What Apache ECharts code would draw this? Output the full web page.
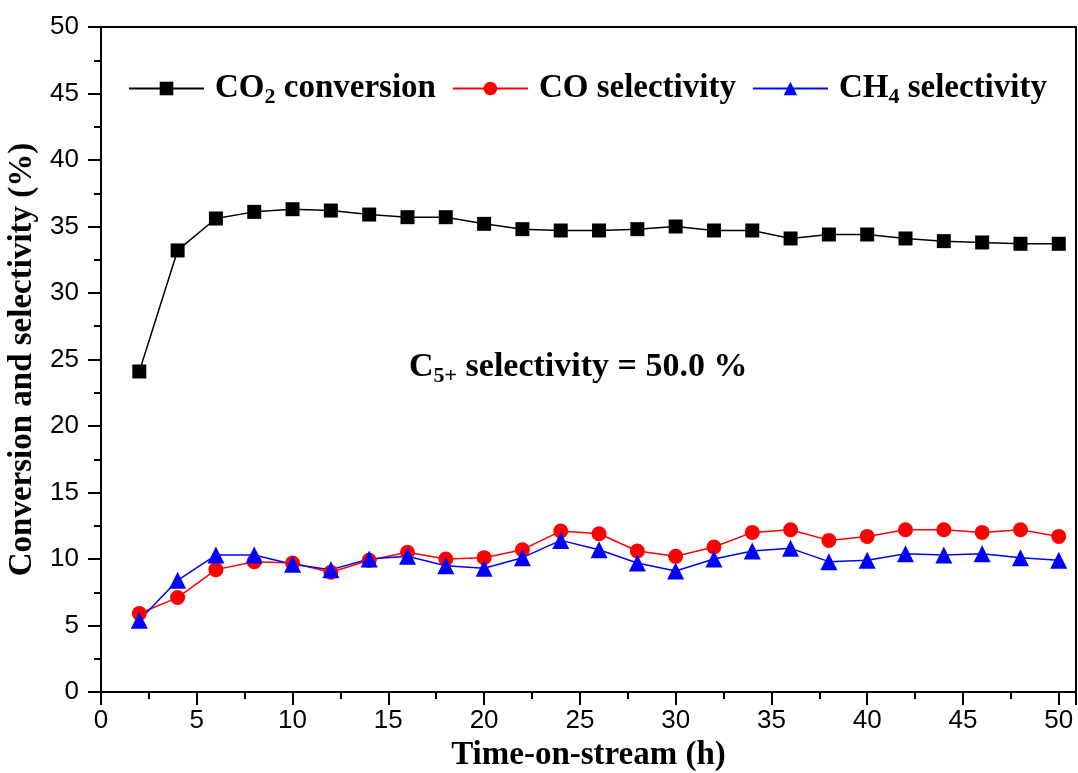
<!DOCTYPE html>
<html><head><meta charset="utf-8">
<script src="https://cdn.jsdelivr.net/npm/echarts@6/dist/echarts.min.js"></script>
<style>html,body{margin:0;padding:0;background:#fff}#c{width:1078px;height:773px}</style>
</head><body><div id="c"></div>
<script>
const hours = [2,4,6,8,10,12,14,16,18,20,22,24,26,28,30,32,34,36,38,40,42,44,46,48,50];
const co2Conversion = [24.1,33.2,35.6,36.1,36.3,36.2,35.9,35.7,35.7,35.2,34.8,34.7,34.7,34.8,35.0,34.7,34.7,34.1,34.4,34.4,34.1,33.9,33.8,33.7,33.7];
const coSelectivity = [5.9,7.1,9.2,9.8,9.7,9.0,9.9,10.5,10.0,10.1,10.7,12.1,11.9,10.6,10.2,10.9,12.0,12.2,11.4,11.7,12.2,12.2,12.0,12.2,11.7];
const ch4Selectivity = [5.4,8.4,10.3,10.3,9.6,9.2,10.0,10.2,9.5,9.3,10.1,11.4,10.7,9.7,9.1,10.0,10.6,10.8,9.8,9.9,10.4,10.3,10.4,10.1,9.9];
const seriesNames = ['CO2 conversion','CO selectivity','CH4 selectivity'];
const legendRich = {
  'CO2 conversion': '{a|CO}{s|2}{a| conversion}',
  'CO selectivity': '{a|CO selectivity}',
  'CH4 selectivity': '{a|CH}{s|4}{a| selectivity}'
};
const annotation = '{a|C}{s|5+}{a| selectivity = 50.0 %}';

const serif = '"Liberation Serif","Times New Roman",serif';
const sans = '"Liberation Sans",Arial,sans-serif';
const legendStyles = {
  a: {fontFamily: serif, fontWeight: 'bold', fontSize: 33, color: '#000'},
  s: {fontFamily: serif, fontWeight: 'bold', fontSize: 22, color: '#000', padding: [18,0,0,0]}
};
const annoStyles = {
  a: {fontFamily: serif, fontWeight: 'bold', fontSize: 34, color: '#000'},
  s: {fontFamily: serif, fontWeight: 'bold', fontSize: 22, color: '#000', padding: [18,0,0,0]}
};
const pairs = arr => hours.map((h,i)=>[h,arr[i]]);

const chart = echarts.init(document.getElementById('c'), null, {renderer:'canvas'});
chart.setOption({
  animation: false,
  backgroundColor: '#fff',
  grid: {left: 101, top: 27, right: 2, bottom: 81, show: true, borderColor: '#000', borderWidth: 2,
         containLabel: false, outerBoundsMode: 'none'},
  title: {
    text: annotation, left: 404, top: 342,
    textStyle: {rich: annoStyles}
  },
  legend: {
    left: 123, top: 67, itemWidth: 75, itemHeight: 17, itemGap: 16,
    data: seriesNames,
    formatter: n => legendRich[n],
    textStyle: {rich: legendStyles, padding: [0,0,0,6]}
  },
  xAxis: {
    type: 'value', min: 0, max: 50.9, interval: 5,
    name: 'Time-on-stream (h)', nameLocation: 'middle', nameGap: 47,
    nameTextStyle: {fontFamily: serif, fontWeight: 'bold', fontSize: 33, color: '#000'},
    axisLine: {lineStyle: {color: '#000', width: 2}},
    axisTick: {inside: false, length: 13, lineStyle: {width: 2, color: '#000'}},
    minorTick: {show: true, splitNumber: 2, length: 7, lineStyle: {width: 2, color: '#000'}},
    axisLabel: {showMaxLabel: false, fontFamily: sans, fontSize: 26, color: '#000', margin: 16},
    splitLine: {show: false}
  },
  yAxis: {
    type: 'value', min: 0, max: 50, interval: 5,
    name: 'Conversion and selectivity (%)', nameLocation: 'middle', nameGap: 54,
    nameTextStyle: {fontFamily: serif, fontWeight: 'bold', fontSize: 33, color: '#000'},
    axisLine: {lineStyle: {color: '#000', width: 2}},
    axisTick: {inside: false, length: 13, lineStyle: {width: 2, color: '#000'}},
    minorTick: {show: true, splitNumber: 2, length: 7, lineStyle: {width: 2, color: '#000'}},
    axisLabel: {fontFamily: sans, fontSize: 26, color: '#000', margin: 22},
    splitLine: {show: false}
  },
  series: [
    {name: seriesNames[0], type: 'line', data: pairs(co2Conversion), symbol: 'rect', symbolSize: 14,
     itemStyle: {color: '#000'}, lineStyle: {color: '#000', width: 1.5}},
    {name: seriesNames[1], type: 'line', data: pairs(coSelectivity), symbol: 'circle', symbolSize: 15,
     itemStyle: {color: '#ff0000'}, lineStyle: {color: '#ff0000', width: 1.5}},
    {name: seriesNames[2], type: 'line', data: pairs(ch4Selectivity), symbol: 'triangle', symbolSize: 17,
     itemStyle: {color: '#0000ff'}, lineStyle: {color: '#0000ff', width: 1.5}}
  ]
});
</script></body></html>
